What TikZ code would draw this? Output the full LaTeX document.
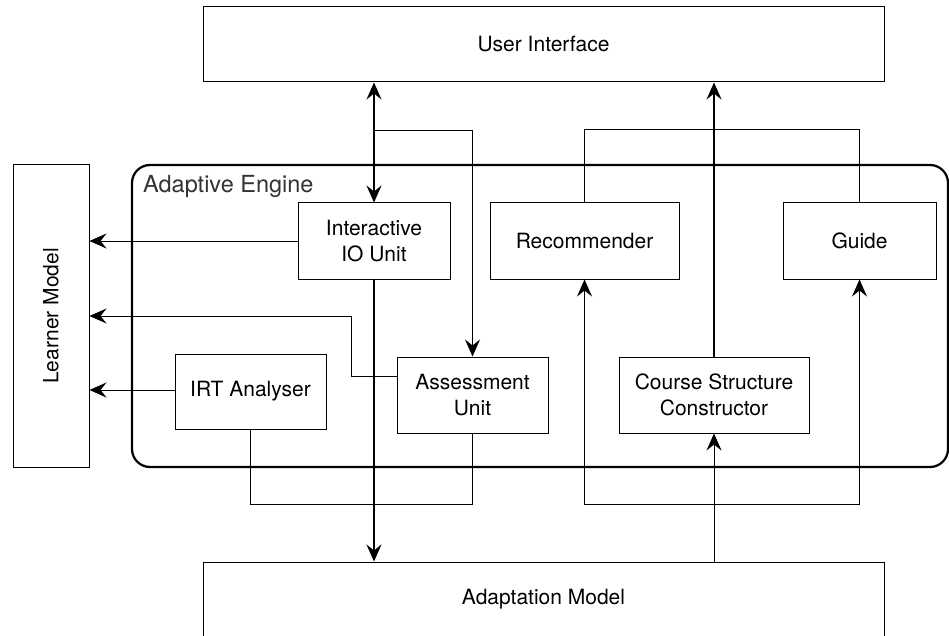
\documentclass[tikz,border=0pt]{standalone}
\usepackage{fontspec}
\setmainfont{TeX Gyre Heros}
\usetikzlibrary{arrows.meta,calc}
\begin{document}
\begin{tikzpicture}[x=1pt,y=-1pt,
  box/.style={draw=black,line width=1pt,inner sep=0pt,align=center,font=\fontsize{21}{26}\selectfont},
  engbox/.style={draw=black,line width=2.2pt,rounded corners=18pt,inner sep=0pt},
  conn/.style={line width=1pt},
  arr/.style={line width=1pt,-{Stealth[length=17pt,width=15pt,inset=6pt]}},
  marr/.style={line width=1.4pt,-{Stealth[length=17pt,width=15pt,inset=6pt]}},
  darr/.style={line width=1.4pt,{Stealth[length=17pt,width=15pt,inset=6pt]}-{Stealth[length=17pt,width=15pt,inset=6pt]}}
]
\useasboundingbox (0,0) rectangle (949,636);

% outer boxes
\node[box,minimum width=681pt,minimum height=75pt] (ui) at (543.5,44.5) {User Interface};
\node[box,minimum width=681pt,minimum height=75pt] (adapt) at (543.5,599.5) {Adaptation Model};
\node[box,minimum width=76pt,minimum height=302pt] (learner) at (51,316) {};
\node[font=\fontsize{21}{26}\selectfont,rotate=90,inner sep=0pt] (learnertxt) at (learner.center) {Learner Model};

% engine
\node[engbox,minimum width=816pt,minimum height=302pt] (engine) at (540,316) {};
\node[anchor=base west,inner sep=0pt,text=black!80,font=\fontsize{23.5}{28}\selectfont] (enginelbl) at (143,193) {Adaptive Engine};

% inner boxes
\node[box,minimum width=152pt,minimum height=76pt] (io) at (374,241) {Interactive\\IO Unit};
\node[box,minimum width=189pt,minimum height=76pt] (rec) at (584.5,241) {Recommender};
\node[box,minimum width=153pt,minimum height=76pt] (guide) at (859.5,241) {Guide};
\node[box,minimum width=151pt,minimum height=75pt] (irt) at (250.5,391.5) {IRT Analyser};
\node[box,minimum width=151pt,minimum height=76pt] (assess) at (472.5,395) {Assessment\\Unit};
\node[box,minimum width=190pt,minimum height=76pt] (csc) at (714,395) {Course Structure\\Constructor};

% junction coordinates
\coordinate (jtopL) at (374,131);
\coordinate (jtopR) at (714,130);
\coordinate (jbotL) at (374,504);
\coordinate (jbotR) at (714,504);
\coordinate (jmid) at (351,316);

% UI <-> IO, UI -> Assessment
\draw[darr] (io.north |- ui.south) -- (io.north);
\draw[arr] (jtopL) -| (assess.north);

% to learner model
\draw[arr] (io.west) -- (io.west -| learner.east);
\draw[conn] (assess.west |- 0,376) -| (jmid);
\draw[arr] (jmid) -- (jmid -| learner.east);
\draw[arr] (irt.west |- 0,390) -- (learner.east |- 0,390);

% to adaptation model
\draw[marr] (io.south) -- (io.south |- adapt.north);
\draw[conn] (irt.south) |- (jbotL);
\draw[conn] (assess.south) |- (jbotL);

% to user interface
\draw[conn] (rec.north) |- (jtopR);
\draw[conn] (guide.north) |- (jtopR);
\draw[marr] (csc.north) -- (csc.north |- ui.south);

% from adaptation model
\draw[arr] (csc.south |- adapt.north) -- (csc.south);
\draw[arr] (jbotR) -| (rec.south);
\draw[arr] (jbotR) -| (guide.south);
\end{tikzpicture}
\end{document}
